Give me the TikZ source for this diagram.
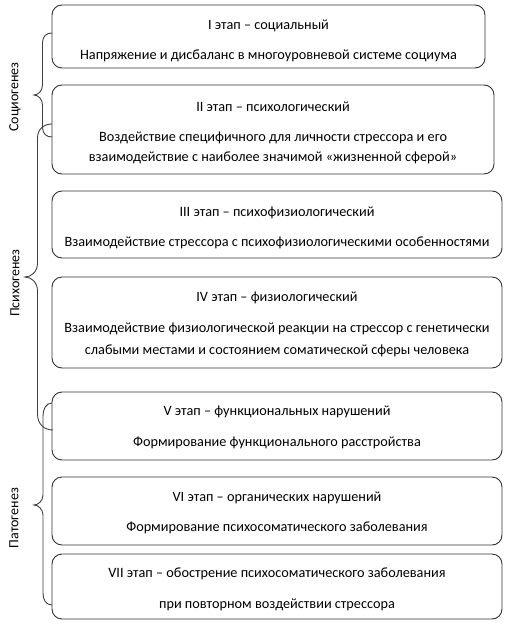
\documentclass[tikz,border=0pt]{standalone}
\usepackage{fontspec}
\setmainfont{Carlito}
\begin{document}
\begin{tikzpicture}[x=1pt,y=-1pt,
  stagebox/.style={draw=black!80, line width=0.9pt, rounded corners=10pt, fill=white, inner sep=0pt},
  txt/.style={anchor=base, inner sep=0pt, font=\fontsize{14.25}{17}\selectfont, text=black},
  grouplabel/.style={rotate=90, inner sep=0pt, font=\fontsize{14}{17}\selectfont, text=black},
  bracestyle/.style={draw=black!75, line width=0.9pt}]
\fill[white] (0,0) rectangle (508,624);
\useasboundingbox (0,0) rectangle (508,624);

% boxes
\node[stagebox, minimum width=433pt, minimum height=63pt] (b1) at (268.5,36.5) {};
\node[stagebox, minimum width=442pt, minimum height=89pt] (b2) at (273,129.5) {};
\node[stagebox, minimum width=450pt, minimum height=67pt] (b3) at (277,224.5) {};
\node[stagebox, minimum width=450pt, minimum height=91pt] (b4) at (277,322.5) {};
\node[stagebox, minimum width=450pt, minimum height=68pt] (b5) at (277,426) {};
\node[stagebox, minimum width=450pt, minimum height=68pt] (b6) at (277,511) {};
\node[stagebox, minimum width=450pt, minimum height=65pt] (b7) at (277,586.5) {};

% texts
\node[txt] (t1a) at (268.5,29.5) {I этап – социальный};
\node[txt] (t1b) at (268.5,59.5) {Напряжение и дисбаланс в многоуровневой системе социума};
\node[txt] (t2a) at (273,111.5) {II этап – психологический};
\node[txt] (t2b) at (273,141.5) {Воздействие специфичного для личности стрессора и его};
\node[txt] (t2c) at (273,161.5) {взаимодействие с наиболее значимой «жизненной сферой»};
\node[txt] (t3a) at (277,216.5) {III этап – психофизиологический};
\node[txt] (t3b) at (277,246.5) {Взаимодействие стрессора с психофизиологическими особенностями};
\node[txt] (t4a) at (277,301.5) {IV этап – физиологический};
\node[txt] (t4b) at (277,332.5) {Взаимодействие физиологической реакции на стрессор с генетически};
\node[txt] (t4c) at (277,354.5) {слабыми местами и состоянием соматической сферы человека};
\node[txt] (t5a) at (277,415.5) {V этап – функциональных нарушений};
\node[txt] (t5b) at (277,446.5) {Формирование функционального расстройства};
\node[txt] (t6a) at (277,501.5) {VI этап – органических нарушений};
\node[txt] (t6b) at (277,531.5) {Формирование психосоматического заболевания};
\node[txt] (t7a) at (277,577.5) {VII этап – обострение психосоматического заболевания};
\node[txt] (t7b) at (277,608.5) {при повторном воздействии стрессора};

% group labels
\node[grouplabel] (g1) at (15,97) {Социогенез};
\node[grouplabel] (g2) at (15,283) {Психогенез};
\node[grouplabel] (g3) at (14,518) {Патогенез};

% braces
\draw[bracestyle] (52,33) .. controls (46.5,33) and (42.5,36) .. (42.5,43)
  -- (42.5,85) .. controls (42.5,91) and (38,95) .. (34,95)
  .. controls (38,95) and (42.5,99) .. (42.5,105)
  -- (42.5,127) .. controls (42.5,134) and (46.5,137) .. (52,137);
\draw[bracestyle] (52,124) .. controls (44,124) and (37.5,129) .. (37.5,138)
  -- (37.5,263) .. controls (37.5,272) and (31,277) .. (25,277)
  .. controls (31,277) and (37.5,282) .. (37.5,291)
  -- (37.5,414) .. controls (37.5,424) and (44,430) .. (53,430);
\draw[bracestyle] (52,403) .. controls (46,403) and (43,409) .. (43,416)
  -- (43,495) .. controls (43,501) and (38,505) .. (34,505)
  .. controls (38,505) and (43,509) .. (43,515)
  -- (43,593) .. controls (43,600) and (46,605) .. (52,605);
\end{tikzpicture}
\end{document}
